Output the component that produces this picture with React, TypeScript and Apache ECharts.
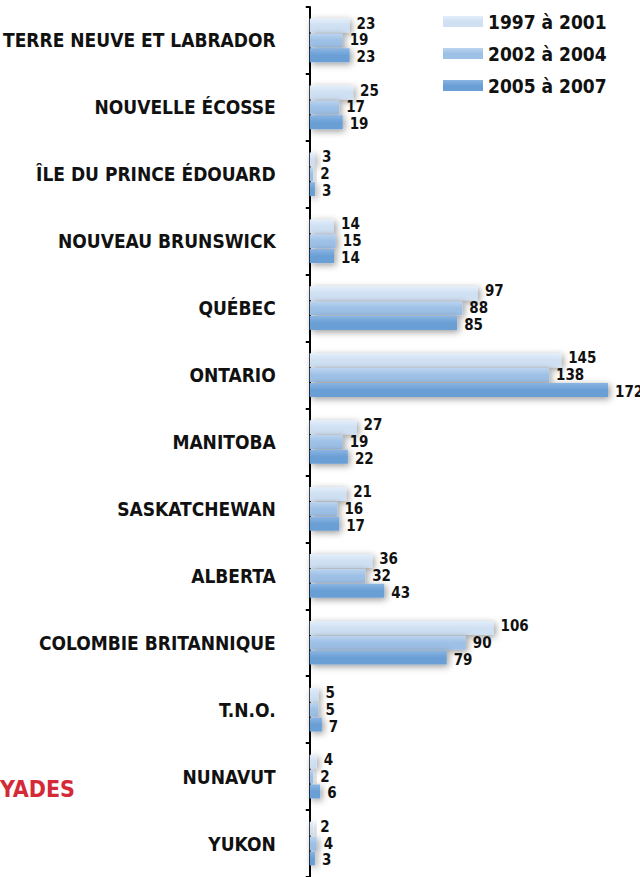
import React, { useEffect, useRef } from "react";
import * as echarts from "echarts";

const categories = [
  "TERRE NEUVE ET LABRADOR",
  "NOUVELLE ÉCOSSE",
  "ÎLE DU PRINCE ÉDOUARD",
  "NOUVEAU BRUNSWICK",
  "QUÉBEC",
  "ONTARIO",
  "MANITOBA",
  "SASKATCHEWAN",
  "ALBERTA",
  "COLOMBIE BRITANNIQUE",
  "T.N.O.",
  "NUNAVUT",
  "YUKON",
];
const seriesNames = ["1997 à 2001", "2002 à 2004", "2005 à 2007"];
const values1997 = [23, 25, 3, 14, 97, 145, 27, 21, 36, 106, 5, 4, 2];
const values2002 = [19, 17, 2, 15, 88, 138, 19, 16, 32, 90, 5, 2, 4];
const values2005 = [23, 19, 3, 14, 85, 172, 22, 17, 43, 79, 7, 6, 3];
const colors = ["#cfe0f3", "#9dc0e6", "#6a9fd6"];
const lightTops = ["#e4eefa", "#bcd4ef", "#8ab5e2"];
const labelOffsets = [[0, -2], [0, 0], [0, 2]];

const FONT = "'DejaVu Sans Condensed', 'Liberation Sans Narrow', 'Roboto', sans-serif";

export default function App() {
  const ref = useRef<HTMLDivElement>(null);
  useEffect(() => {
    if (!ref.current) return;
    const chart = echarts.init(ref.current, undefined, { renderer: "svg" });
    const allData = [values1997, values2002, values2005];
    chart.setOption({
      animation: false,
      backgroundColor: "#ffffff",
      legend: {
        orient: "vertical",
        left: 443,
        top: 12,
        padding: 0,
        itemWidth: 40,
        itemHeight: 11,
        itemGap: 13,
        icon: "rect",
        data: seriesNames,
        textStyle: {
          fontFamily: FONT,
          fontWeight: "bold",
          fontSize: 19,
          color: "#111",
        },
      },
      grid: { left: 306, top: 7, width: 302, height: 872, containLabel: false },
      xAxis: {
        type: "value",
        min: 0,
        max: 172,
        show: false,
      },
      yAxis: {
        type: "category",
        inverse: true,
        data: categories,
        axisLine: { show: true, lineStyle: { color: "#000", width: 2 } },
        axisTick: { show: true, length: 4, lineStyle: { color: "#000", width: 2 } },
        axisLabel: {
          margin: 34,
          fontFamily: FONT,
          fontWeight: "bold",
          fontSize: 19,
          color: "#111",
        },
      },
      series: seriesNames.map((name, i) => ({
        name,
        type: "bar",
        data: allData[i],
        barWidth: 14,
        barGap: "6%",
        itemStyle: {
          color: {
            type: "linear",
            x: 0,
            y: 0,
            x2: 0,
            y2: 1,
            colorStops: [
              { offset: 0, color: lightTops[i] },
              { offset: 0.5, color: colors[i] },
              { offset: 1, color: colors[i] },
            ],
          },
          shadowBlur: 7,
          shadowColor: "rgba(0,0,0,0.4)",
          shadowOffsetX: 2,
          shadowOffsetY: 2,
        },
        label: {
          show: true,
          position: "right",
          distance: 7,
          offset: labelOffsets[i],
          fontFamily: FONT,
          fontWeight: "bold",
          fontSize: 15,
          lineHeight: 15,
          color: "#111",
        },
      })),
      color: colors,
      graphic: [
        {
          type: "text",
          left: 0,
          top: 777,
          style: {
            text: "YADES",
            fontFamily: FONT,
            fontWeight: "bold",
            fontSize: 23,
            fill: "#d42a38",
          },
        },
      ],
    });
    return () => chart.dispose();
  }, []);
  return (
    <div
      ref={ref}
      style={{ position: "fixed", left: 0, top: 0, width: 640, height: 877 }}
    />
  );
}
